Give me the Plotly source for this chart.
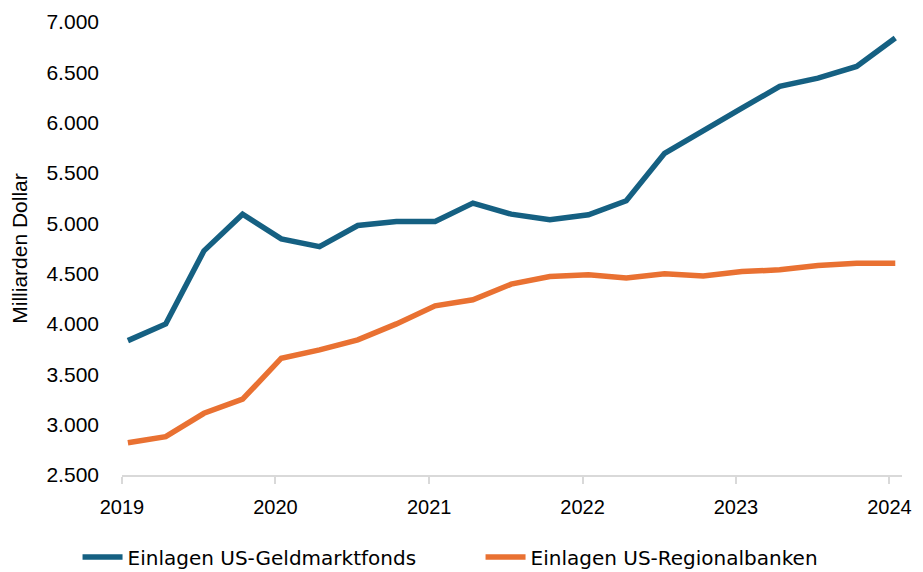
import plotly.graph_objects as go

dates = ["2019-01-15", "2019-04-15", "2019-07-15", "2019-10-15",
         "2020-01-15", "2020-04-15", "2020-07-15", "2020-10-15",
         "2021-01-15", "2021-04-15", "2021-07-15", "2021-10-15",
         "2022-01-15", "2022-04-15", "2022-07-15", "2022-10-15",
         "2023-01-15", "2023-04-15", "2023-07-15", "2023-10-15",
         "2024-01-15"]

geldmarktfonds = [3835, 4001, 4727, 5090, 4846, 4769, 4978, 5018,
                  5018, 5201, 5091, 5035, 5085, 5224, 5695, 5925,
                  6145, 6360, 6443, 6559, 6841]

regionalbanken = [2821, 2881, 3113, 3253, 3660, 3743, 3842, 4001,
                  4180, 4240, 4396, 4471, 4488, 4458, 4498, 4478,
                  4521, 4538, 4581, 4604, 4604]

series_names = ["Einlagen US-Geldmarktfonds", "Einlagen US-Regionalbanken"]
year_ticks = ["2019-01-01", "2020-01-01", "2021-01-01", "2022-01-01", "2023-01-01", "2024-01-01"]
year_labels = ["2019", "2020", "2021", "2022", "2023", "2024"]

FONT = "Liberation Sans, Arial, sans-serif"
LEGEND_FONT = "DejaVu Sans, Liberation Sans, sans-serif"

fig = go.Figure()
fig.add_trace(go.Scatter(x=dates, y=geldmarktfonds, mode="lines", name=series_names[0],
                         line=dict(color="#156082", width=5.5)))
fig.add_trace(go.Scatter(x=dates, y=regionalbanken, mode="lines", name=series_names[1],
                         line=dict(color="#E97132", width=5.5)))

fig.update_layout(
    width=923, height=572,
    margin=dict(l=122, r=21, t=22, b=97, autoexpand=False),
    paper_bgcolor="white", plot_bgcolor="white",
    separators=",.",
    font=dict(family=FONT, color="#000000", size=20),
    showlegend=True,
    legend=dict(orientation="h", x=-0.057, xref="paper", xanchor="left",
                y=-0.181, yanchor="middle", font=dict(size=20, family=LEGEND_FONT),
                itemwidth=40, tracegroupgap=0,
                entrywidth=348, entrywidthmode="pixels"),
)
fig.update_xaxes(
    type="date", range=["2019-01-01", "2024-01-31"],
    tickmode="array", tickvals=year_ticks, ticktext=year_labels,
    showgrid=False, showline=True, linecolor="#d9d9d9", linewidth=2,
    ticks="outside", ticklen=7, tickcolor="#d9d9d9", tickwidth=2,
    ticklabelstandoff=6,
    tickfont=dict(size=20, family=FONT), zeroline=False, automargin=False,
)
fig.update_yaxes(
    range=[2500, 7000], tickmode="linear", tick0=2500, dtick=500,
    tickformat=",.0f", showgrid=False, showline=False, zeroline=False,
    ticks="", ticklabelstandoff=22, automargin=False,
    tickfont=dict(size=21, family=FONT),
    title=dict(text="Milliarden Dollar", font=dict(size=21, family=FONT), standoff=13),
)

fig.write_html("out.html", config={"displayModeBar": False},
               post_script="document.body.style.margin='0px';")
